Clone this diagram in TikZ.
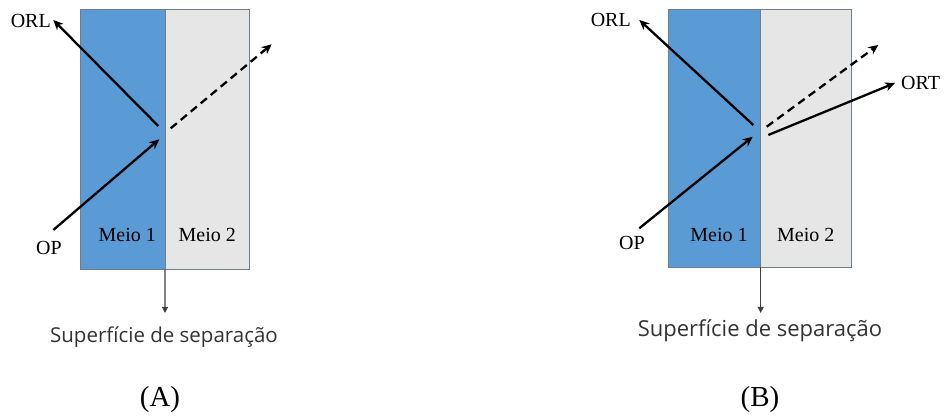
\documentclass[tikz,border=0pt]{standalone}
\usepackage{fontspec}
\setmainfont{Liberation Serif}
\newfontfamily\uifont{Open Sans}
\usetikzlibrary{arrows.meta}
\definecolor{meioA}{RGB}{91,155,213}
\definecolor{meioB}{RGB}{231,230,230}
\definecolor{edge}{RGB}{112,126,140}
\definecolor{sepline}{RGB}{64,64,64}
\tikzset{
  medium/.style={draw=edge, line width=0.9pt, inner sep=0pt, outer sep=0pt, anchor=north west},
  lbl/.style={inner sep=0pt, font=\fontsize{20}{24}\selectfont},
  caption/.style={inner sep=0pt, font=\fontsize{29}{34}\selectfont},
  sepnote/.style={inner sep=0pt, font=\uifont\fontsize{20.5}{24}\selectfont, text=black!80},
  ray/.style={line width=2.3pt, -{Stealth[length=10pt,width=9pt]}},
  ghost/.style={ray, dash pattern=on 8pt off 5pt},
  septip/.style={draw=sepline, line width=1.1pt, -{Triangle[length=6pt,width=6pt]}}
}
\begin{document}
\begin{tikzpicture}[x=1pt,y=-1pt]
\useasboundingbox (0,0) rectangle (944,419);

% ---------- panel (A): reflection only ----------
\node[medium, fill=meioA, minimum width=84.3pt, minimum height=260pt] (a1) at (80.7,9.3) {};
\node[medium, fill=meioB, minimum width=84.3pt, minimum height=260pt] (a2) at (165,9.3) {};
\node[lbl] (a1t) at (127.3,235) {Meio 1};
\node[lbl] (a2t) at (207.3,235) {Meio 2};
\coordinate (aSep) at (165,313);
\draw[septip] (a1.south east) -- (aSep);
\node[sepnote] (aNote) at (164,337) {Superfície de separação};

\coordinate (aOPs) at (53.3,230);
\coordinate (aOPe) at (159.3,139.3);
\coordinate (aRLs) at (158.3,126);
\coordinate (aRLe) at (53.3,20);
\coordinate (aDs) at (170.7,128.3);
\coordinate (aDe) at (271.7,44.3);
\draw[ray] (aOPs) -- (aOPe);
\draw[ray] (aRLs) -- (aRLe);
\draw[ghost] (aDs) -- (aDe);
\node[lbl, anchor=east] (aORL) at (51,21) {ORL};
\node[lbl] (aOP) at (49,248) {OP};
\node[caption] (capA) at (160,400) {(A)};

% ---------- panel (B): reflection and refraction ----------
\node[medium, fill=meioA, minimum width=92.4pt, minimum height=258pt] (b1) at (668.3,9.3) {};
\node[medium, fill=meioB, minimum width=91pt, minimum height=258pt] (b2) at (760.7,9.3) {};
\node[lbl] (b1t) at (719,235) {Meio 1};
\node[lbl] (b2t) at (805.7,235) {Meio 2};
\coordinate (bSep) at (760.7,313);
\draw[septip] (b1.south east) -- (bSep);
\node[sepnote, font=\uifont\fontsize{22}{26}\selectfont] (bNote) at (760,331) {Superfície de separação};

\coordinate (bOPs) at (639.3,228.3);
\coordinate (bOPe) at (752.7,136.7);
\coordinate (bRLs) at (753.3,125);
\coordinate (bRLe) at (639.3,20);
\coordinate (bDs) at (766.7,126.7);
\coordinate (bDe) at (878.3,45);
\coordinate (bRTs) at (768.3,135);
\coordinate (bRTe) at (895,83);
\draw[ray] (bOPs) -- (bOPe);
\draw[ray] (bRLs) -- (bRLe);
\draw[ghost] (bDs) -- (bDe);
\draw[ray] (bRTs) -- (bRTe);
\node[lbl, anchor=east] (bORL) at (631,20) {ORL};
\node[lbl] (bOP) at (632,243) {OP};
\node[lbl, anchor=west] (bORT) at (901,83) {ORT};
\node[caption] (capB) at (760,400) {(B)};
\end{tikzpicture}
\end{document}
